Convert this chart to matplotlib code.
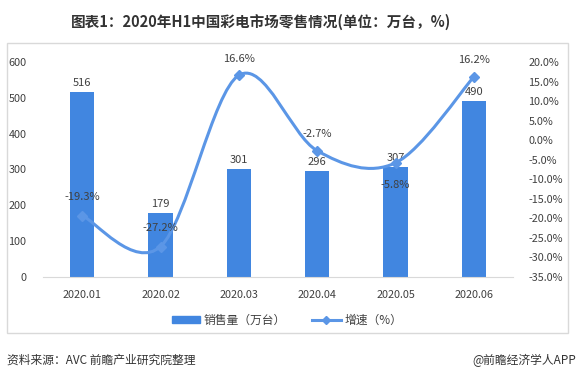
import numpy as np
import matplotlib.pyplot as plt
from matplotlib.path import Path
from matplotlib.patches import PathPatch, Rectangle, Patch
from matplotlib.lines import Line2D

plt.rcParams['font.family'] = ['Noto Sans CJK SC', 'DejaVu Sans']

months = ["2020.01", "2020.02", "2020.03", "2020.04", "2020.05", "2020.06"]
sales = [516, 179, 301, 296, 307, 490]
growth = [-19.3, -27.2, 16.6, -2.7, -5.8, 16.2]

bar_color = "#4186E0"
line_color = "#5B96E6"
text_color = "#404040"

fig = plt.figure(figsize=(5.77, 3.83), dpi=100)

# outer box
fig.patches.append(Rectangle((7 / 577, 1 - 333 / 383), 561 / 577, 290 / 383,
                             transform=fig.transFigure, fill=False,
                             edgecolor="#d9d9d9", linewidth=1))

ax = fig.add_axes([43 / 577, 1 - 277 / 383, 470 / 577, 215 / 383])
x = np.arange(len(months))
ax.bar(x, sales, width=0.31, color=bar_color, zorder=2)
ax.set_xlim(-0.5, len(months) - 0.5)
ax.set_ylim(0, 600)
ax.set_yticks(range(0, 601, 100))
ax.set_xticks(x)
ax.set_xticklabels(months)
ax.tick_params(axis="both", length=0, labelsize=7.8, colors=text_color)
ax.tick_params(axis="x", pad=9)
ax.tick_params(axis="y", pad=12)
for s in ["top", "right", "left"]:
    ax.spines[s].set_visible(False)
ax.spines["bottom"].set_color("#d9d9d9")

for xi, v in zip(x, sales):
    ax.text(xi, v + 12, str(v), ha="center", va="bottom", fontsize=8, color=text_color)

ax2 = ax.twinx()
ax2.set_ylim(-35, 20)
ax2.set_yticks(range(-35, 21, 5))
ax2.set_yticklabels([f"{t:.1f}%" for t in range(-35, 21, 5)])
ax2.tick_params(axis="y", length=0, labelsize=7.8, colors=text_color, pad=11)
for s in ["top", "right", "left", "bottom"]:
    ax2.spines[s].set_visible(False)

# smoothed line (bezier through the data points)
px = np.array(x, dtype=float)
py = np.array(growth, dtype=float)
verts = [(px[0], py[0])]
codes = [Path.MOVETO]
t = 1 / 6
for i in range(len(px) - 1):
    p0 = (px[i - 1], py[i - 1]) if i > 0 else (px[i], py[i])
    p1 = (px[i], py[i])
    p2 = (px[i + 1], py[i + 1])
    p3 = (px[i + 2], py[i + 2]) if i + 2 < len(px) else p2
    c1 = (p1[0] + (p2[0] - p0[0]) * t, p1[1] + (p2[1] - p0[1]) * t)
    c2 = (p2[0] - (p3[0] - p1[0]) * t, p2[1] - (p3[1] - p1[1]) * t)
    verts += [c1, c2, p2]
    codes += [Path.CURVE4] * 3
ax2.add_patch(PathPatch(Path(verts, codes), fill=False, edgecolor=line_color,
                        linewidth=2.2, zorder=3))
ax2.plot(px, py, linestyle="none", marker="D", markersize=5, color=line_color, zorder=4)

offsets = [(0, 3.5), (0, 3.5), (0, 3), (0, 3), (0, -4.5), (0, 3)]
for xi, v, (dx, dy) in zip(px, py, offsets):
    ax2.text(xi + dx, v + dy, f"{v:.1f}%", ha="center",
             va="bottom" if dy > 0 else "top", fontsize=8, color=text_color)

# legend
handles = [Patch(color=bar_color, label="销售量（万台）"),
           Line2D([0], [0], color=line_color, linewidth=2.2, marker="D", markersize=4,
                  label="增速（%）")]
fig.legend(handles=handles, loc="center", bbox_to_anchor=(287 / 577, 1 - 320 / 383),
           ncol=2, frameon=False, fontsize=8.5, handlelength=2.4, handleheight=0.5,
           handletextpad=0.3, columnspacing=2.2, labelcolor=text_color)

fig.text(261 / 577, 1 - 22 / 383, "图表1：2020年H1中国彩电市场零售情况(单位：万台，%)",
         ha="center", va="center", fontsize=10.5, fontweight="bold", color="#333333")
fig.text(7 / 577, 1 - 360 / 383, "资料来源：AVC 前瞻产业研究院整理", ha="left", va="center",
         fontsize=8.5, color="#333333")
fig.text(576 / 577, 1 - 360 / 383, "@前瞻经济学人APP", ha="right", va="center",
         fontsize=8.5, color="#333333")

fig.savefig("out.png", dpi=100)
